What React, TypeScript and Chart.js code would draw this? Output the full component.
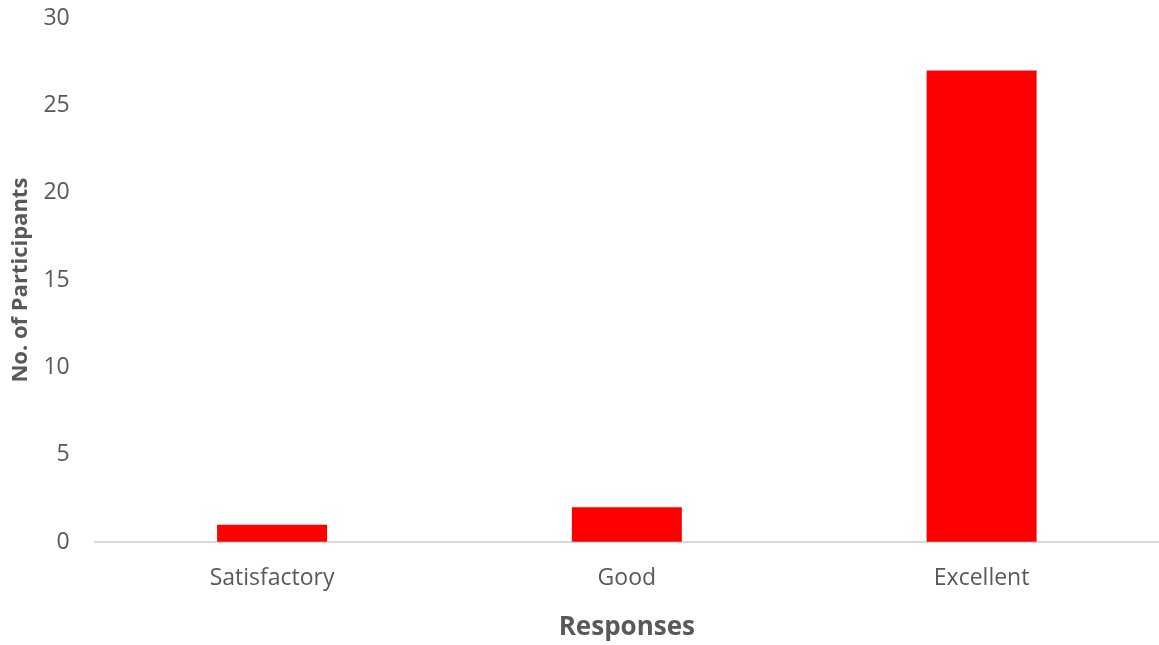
import React, { useEffect, useRef } from "react";
import { Chart, registerables } from "chart.js";

Chart.register(...registerables);

const categories = ["Satisfactory", "Good", "Excellent"];
const participants = [1, 2, 27];
const yTicks = [0, 5, 10, 15, 20, 25, 30];

export default function App() {
  const ref = useRef<HTMLCanvasElement | null>(null);
  useEffect(() => {
    document.body.style.margin = "0";
    const ctx = ref.current!;
    const chart = new Chart(ctx, {
      type: "bar",
      data: {
        labels: categories,
        datasets: [
          {
            label: "No. of Participants",
            data: participants,
            backgroundColor: "#ff0000",
            borderWidth: 0,
            categoryPercentage: 1,
            barPercentage: 0.31,
          },
        ],
      },
      options: {
        animation: false,
        responsive: false,
        maintainAspectRatio: false,
        layout: { padding: { left: 5, right: 0, top: 18, bottom: 2 } },
        plugins: { legend: { display: false }, tooltip: { enabled: false } },
        scales: {
          x: {
            grid: { display: false },
            border: { display: true, color: "#d9d9d9", width: 2 },
            ticks: {
              color: "#595959",
              font: { family: "Open Sans", size: 23 },
              padding: 14,
            },
            title: {
              display: true,
              text: "Responses",
              color: "#595959",
              font: { family: "Open Sans", size: 26, weight: "bold" },
              padding: { top: 6, bottom: 0 },
            },
          },
          y: {
            min: 0,
            max: 30,
            afterBuildTicks: (axis: any) => {
              axis.ticks = yTicks.map((v) => ({ value: v }));
            },
            grid: {
              display: true,
              drawOnChartArea: false,
              drawTicks: true,
              tickLength: 25,
              color: "rgba(0,0,0,0)",
            },
            border: { display: false },
            ticks: {
              color: "#595959",
              font: { family: "Open Sans", size: 23 },
              padding: 0,
            },
            title: {
              display: true,
              text: "No. of Participants",
              color: "#595959",
              font: { family: "Open Sans", size: 22, weight: "bold" },
              padding: { top: 3, bottom: 9 },
            },
          },
        },
      },
    });
    return () => chart.destroy();
  }, []);
  return (
    <div style={{ position: "absolute", left: 0, top: 0, width: 1159, height: 645, background: "#fff" }}>
      <canvas ref={ref} width={1159} height={645} style={{ width: 1159, height: 645 }} />
    </div>
  );
}
